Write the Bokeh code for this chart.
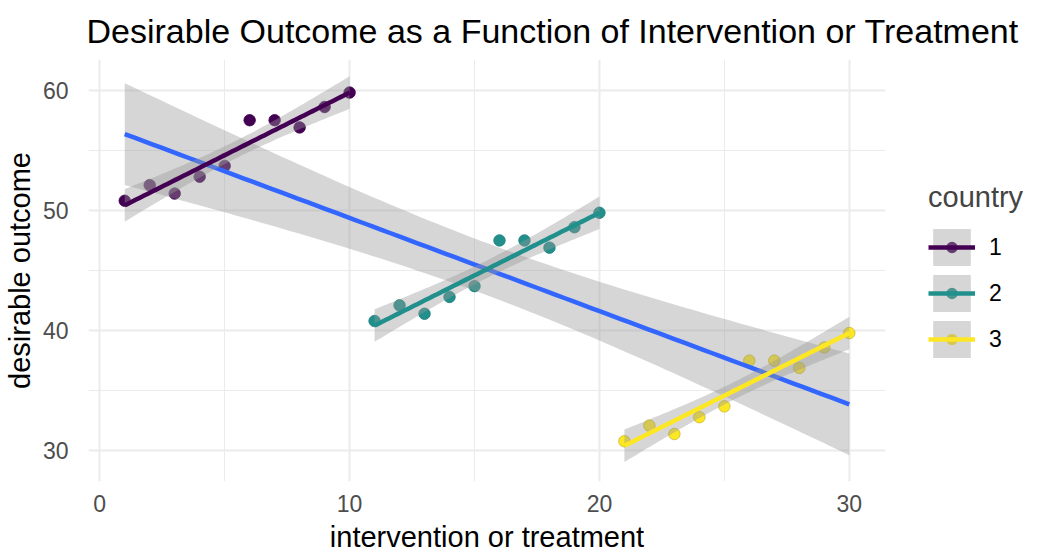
import numpy as np
from bokeh.plotting import figure
from bokeh.models import FixedTicker, Legend, LegendItem, Range1d, ColumnDataSource
from bokeh.embed import file_html
from bokeh.resources import INLINE

# ---- data ----
intervention_c1 = [1, 2, 3, 4, 5, 6, 7, 8, 9, 10]
intervention_c2 = [11, 12, 13, 14, 15, 16, 17, 18, 19, 20]
intervention_c3 = [21, 22, 23, 24, 25, 26, 27, 28, 29, 30]
outcome_c1 = [50.8, 52.1, 51.4, 52.8, 53.7, 57.5, 57.5, 56.9, 58.6, 59.8]
outcome_c2 = [40.8, 42.1, 41.4, 42.8, 43.7, 47.5, 47.5, 46.9, 48.6, 49.8]
outcome_c3 = [30.8, 32.1, 31.4, 32.8, 33.7, 37.5, 37.5, 36.9, 38.6, 39.8]
countries = ["1", "2", "3"]
colors = ["#440154", "#21908C", "#FDE725"]
edge_colors = ["#3a0148", "#1c7b78", "#c9b82a"]
x_ticks = [0, 10, 20, 30]
x_minor = [5, 15, 25]
y_ticks = [30, 40, 50, 60]
y_minor = [35, 45, 55]
x_limits = (-0.45, 31.45)
y_limits = (27.45, 62.55)

# t quantiles (0.975) for df = 8 and df = 28
T_Q = {8: 2.306004, 28: 2.048407}


def lm_band(x, y, n_pts=80):
    x = np.asarray(x, float)
    y = np.asarray(y, float)
    n = len(x)
    b, a = np.polyfit(x, y, 1)
    resid = y - (a + b * x)
    s = np.sqrt(np.sum(resid ** 2) / (n - 2))
    xbar = x.mean()
    sxx = np.sum((x - xbar) ** 2)
    xs = np.linspace(x.min(), x.max(), n_pts)
    yh = a + b * xs
    se = s * np.sqrt(1.0 / n + (xs - xbar) ** 2 / sxx)
    t = T_Q[n - 2]
    return xs, yh, yh - t * se, yh + t * se


groups = [(intervention_c1, outcome_c1), (intervention_c2, outcome_c2), (intervention_c3, outcome_c3)]
all_x = intervention_c1 + intervention_c2 + intervention_c3
all_y = outcome_c1 + outcome_c2 + outcome_c3

fits = [lm_band(gx, gy) for gx, gy in groups]
overall = lm_band(all_x, all_y)

FONT = "Liberation Sans"
FRAME_W, FRAME_H = 797, 422

p = figure(frame_width=FRAME_W, frame_height=FRAME_H, output_backend="svg", toolbar_location=None,
           x_range=Range1d(*x_limits), y_range=Range1d(*y_limits),
           min_border_left=78, min_border_right=146, min_border_top=10, min_border_bottom=67,
           title="Desirable Outcome as a Function of Intervention or Treatment",
           x_axis_label="intervention or treatment", y_axis_label="desirable outcome")

p.outline_line_color = None
p.background_fill_color = "white"
p.border_fill_color = "white"

p.title.text_font = FONT
p.title.text_font_size = "34px"
p.title.text_font_style = "normal"
p.title.text_color = "black"
p.title.align = "left"
p.title.offset = -2
p.title.standoff = 19

p.xaxis.ticker = FixedTicker(ticks=x_ticks, minor_ticks=x_minor)
p.yaxis.ticker = FixedTicker(ticks=y_ticks, minor_ticks=y_minor)
for ax in (p.xaxis, p.yaxis):
    ax.axis_line_color = None
    ax.major_tick_line_color = None
    ax.minor_tick_line_color = None
    ax.major_label_text_font = FONT
    ax.major_label_text_font_size = "23px"
    ax.major_label_text_color = "#4D4D4D"
    ax.axis_label_text_font = FONT
    ax.axis_label_text_font_size = "29px"
    ax.axis_label_text_font_style = "normal"
    ax.axis_label_text_color = "black"
p.xaxis.major_label_standoff = 7
p.xaxis.axis_label_standoff = 6
p.yaxis.major_label_standoff = 14
p.yaxis.axis_label_standoff = 4

for g in (p.xgrid, p.ygrid):
    g.grid_line_color = "#EBEBEB"
    g.grid_line_width = 2
    g.minor_grid_line_color = "#EBEBEB"
    g.minor_grid_line_width = 1

sources = [ColumnDataSource(data=dict(x=gx, y=gy)) for gx, gy in groups]

# legend point keys: tiny in the plot (hidden under the real points); in the legend
# a wide white ring trims the enlarged key marker down to point size
key_points = []
for src, c in zip(sources, colors):
    kp = p.scatter("x", "y", source=src, size=1, fill_color=c, fill_alpha=1.0,
                   line_color="white", line_width=7)
    key_points.append(kp)

# points
for src, c, ec in zip(sources, colors, edge_colors):
    p.scatter("x", "y", source=src, size=11.5, fill_color=c, fill_alpha=1.0,
              line_color=ec, line_alpha=0.8, line_width=1)

# overall fit
xs, yh, lo, hi = overall
p.varea(x=xs, y1=lo, y2=hi, fill_color="#999999", fill_alpha=0.4)
p.line(xs, yh, line_color="#3366FF", line_width=4.5)

# group fits
ribbons, lines = [], []
for f in fits:
    xs, yh, lo, hi = f
    r = p.varea(x=xs, y1=lo, y2=hi, fill_color="#999999", fill_alpha=0.4)
    ribbons.append(r)
for f, c in zip(fits, colors):
    xs, yh, lo, hi = f
    l = p.line(xs, yh, line_color=c, line_width=4.5)
    lines.append(l)

KEY_X = 43        # gap between frame and legend keys
KEY_BOTTOM = 119  # legend keys bottom, above the frame bottom

legend = Legend(items=[LegendItem(label=lab, renderers=[kp, r, l])
                       for lab, kp, r, l in zip(countries, key_points, ribbons, lines)],
                title="country", location=(KEY_X, KEY_BOTTOM),
                glyph_width=47, glyph_height=46, label_standoff=14, label_width=60, spacing=0,
                padding=0, margin=0, border_line_color=None, background_fill_alpha=0,
                label_text_font=FONT, label_text_font_size="23px", label_text_color="black",
                title_text_font=FONT, title_text_font_size="29px", title_text_font_style="normal",
                title_standoff=10)
p.add_layout(legend, "right")

open("out.html", "w").write(file_html(p, INLINE))
